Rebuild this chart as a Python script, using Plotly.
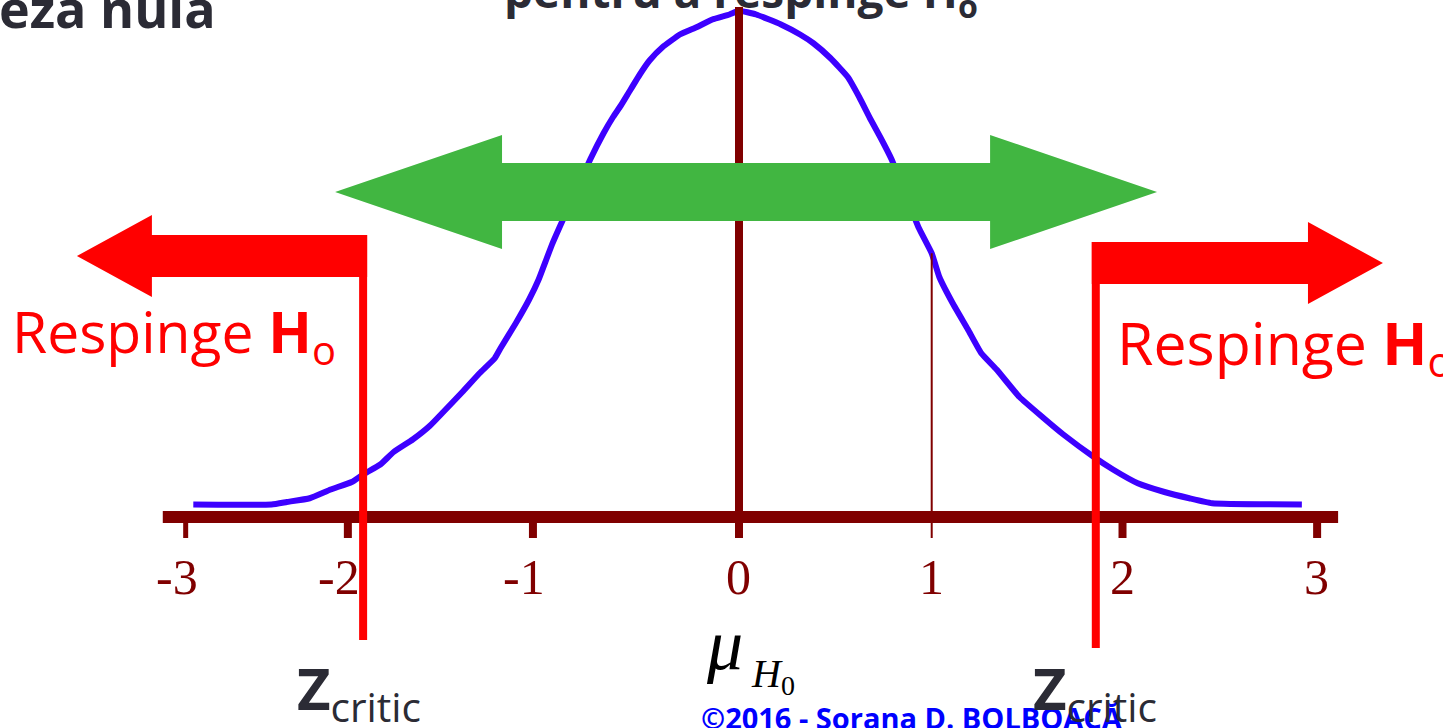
import plotly.graph_objects as go
import numpy as np

# Sampling distribution under H0: z position and curve height
z_values = [-2.86, -2.45, -2.37, -2.25, -2.14, -2.03, -1.97, -1.88, -1.81, -1.71,
            -1.62, -1.55, -1.45, -1.36, -1.28, -1.25, -1.17, -1.10, -1.05, -1.01,
            -0.98, -0.94, -0.78, -0.71, -0.66, -0.62, -0.58, -0.52, -0.47, -0.40,
            -0.31, -0.22, -0.14, -0.05, 0.00, 0.09, 0.22, 0.32, 0.39, 0.48,
            0.57, 0.63, 0.69, 0.74, 0.80, 0.94, 1.01, 1.05, 1.12, 1.20,
            1.27, 1.35, 1.47, 1.59, 1.70, 1.86, 1.96, 2.09, 2.23, 2.36,
            2.48, 2.95]
density = [0.010, 0.010, 0.012, 0.015, 0.022, 0.028, 0.034, 0.042, 0.052, 0.062,
           0.073, 0.084, 0.100, 0.115, 0.127, 0.135, 0.155, 0.174, 0.190, 0.206,
           0.218, 0.232, 0.286, 0.307, 0.320, 0.329, 0.339, 0.354, 0.365, 0.376,
           0.386, 0.392, 0.398, 0.402, 0.405, 0.402, 0.394, 0.386, 0.379, 0.367,
           0.352, 0.336, 0.318, 0.304, 0.286, 0.232, 0.211, 0.192, 0.171, 0.150,
           0.131, 0.118, 0.096, 0.080, 0.066, 0.048, 0.038, 0.027, 0.020, 0.015,
           0.011, 0.010]

# Hand-drawn z axis: tick marks and their labels
tick_positions = [-2.90, -2.05, -1.08, 0.00, 1.01, 2.01, 3.03]
tick_labels = ["-3", "-2", "-1", "0", "1", "2", "3"]

# Critical values bounding the rejection regions
z_critic = [-1.97, 1.87]

W, H = 1443, 728
X0_PX, PX_PER_Z = 739, 190.8      # pixel of z = 0, pixels per z unit
AXIS_PX, PX_PER_Y = 517, 1250.0   # pixel row of the z axis, pixels per density unit

x_range = [-X0_PX / PX_PER_Z, (W - X0_PX) / PX_PER_Z]
y_range = [(AXIS_PX - H) / PX_PER_Y, AXIS_PX / PX_PER_Y]

DARK_RED = "#800000"
CURVE = "#3d00ff"
RED = "#ff0000"
GREEN = "#41b641"
INK = "#2b2b35"
BLUE = "#0000ff"

SANS = "Open Sans"
SERIF = "Liberation Serif"


def dz(px):
    """pixel length -> z units"""
    return px / PX_PER_Z


def dd(px):
    """pixel length -> density units"""
    return px / PX_PER_Y


def paper_x(px):
    return px / W


def paper_top(baseline_px, size, ascent=1.069):
    """paper y of an annotation's top edge so that its baseline falls on baseline_px"""
    return 1 - (baseline_px - ascent * size - 2) / H


fig = go.Figure()

fig.add_trace(go.Scatter(
    x=z_values, y=density, mode="lines",
    line=dict(color=CURVE, width=6, shape="spline", smoothing=0.4),
    hoverinfo="skip", showlegend=False,
))

shapes = []

# z axis (thick horizontal bar) and vertical axis through the mean
shapes.append(dict(type="line", x0=-3.02, x1=3.14, y0=0, y1=0,
                   line=dict(color=DARK_RED, width=12)))
shapes.append(dict(type="line", x0=0, x1=0, y0=0, y1=0.408,
                   line=dict(color=DARK_RED, width=8)))

# tick marks; at z = 1 a thin guide line runs up to the curve
for pos, lab in zip(tick_positions, tick_labels):
    if lab == "1":
        top = float(np.interp(pos, z_values, density))
        shapes.append(dict(type="line", x0=pos, x1=pos, y0=-dd(21), y1=top,
                           line=dict(color=DARK_RED, width=2)))
    else:
        shapes.append(dict(type="line", x0=pos, x1=pos, y0=-dd(6), y1=-dd(21),
                           line=dict(color=DARK_RED, width=5 if lab == "-3" else 8)))


def poly(points):
    return "M " + " L ".join(f"{x:.4f},{y:.4f}" for x, y in points) + " Z"


# green double arrow: the non-rejection region
gy, g_shaft, g_head = dd(517 - 192), dd(29), dd(57)
gl_tip, gl_base, gr_base, gr_tip = -2.117, -1.242, 1.316, 2.191
shapes.append(dict(type="path", fillcolor=GREEN, line=dict(width=0), path=poly([
    (gl_tip, gy), (gl_base, gy + g_head), (gl_base, gy + g_shaft),
    (gr_base, gy + g_shaft), (gr_base, gy + g_head), (gr_tip, gy),
    (gr_base, gy - g_head), (gr_base, gy - g_shaft),
    (gl_base, gy - g_shaft), (gl_base, gy - g_head)])))

# red critical lines with arrows pointing into the rejection regions
half_line = dz(4)
shaft, head = dd(21), dd(41)

ly = dd(517 - 256)
shapes.append(dict(type="line", x0=z_critic[0], x1=z_critic[0], y0=ly + shaft, y1=dd(517 - 640),
                   line=dict(color=RED, width=8)))
shapes.append(dict(type="path", fillcolor=RED, line=dict(width=0), path=poly([
    (-3.470, ly), (-3.077, ly + head), (-3.077, ly + shaft),
    (z_critic[0] + half_line, ly + shaft), (z_critic[0] + half_line, ly - shaft),
    (-3.077, ly - shaft), (-3.077, ly - head)])))

ry = dd(517 - 263)
shapes.append(dict(type="line", x0=z_critic[1], x1=z_critic[1], y0=ry + shaft, y1=dd(517 - 648),
                   line=dict(color=RED, width=8)))
shapes.append(dict(type="path", fillcolor=RED, line=dict(width=0), path=poly([
    (3.375, ry), (2.982, ry + head), (2.982, ry + shaft),
    (z_critic[1] - half_line, ry + shaft), (z_critic[1] - half_line, ry - shaft),
    (2.982, ry - shaft), (2.982, ry - head)])))

annotations = []

# tick labels: the last digit is centred on its tick
for pos, lab in zip(tick_positions, tick_labels):
    annotations.append(dict(
        x=pos, xref="x", xanchor="right", xshift=14,
        y=paper_top(594, 50, 0.891), yref="paper", yanchor="top",
        text=lab, showarrow=False,
        font=dict(family=SERIF, size=50, color=DARK_RED)))


def text(txt, x_px, baseline, size, color, family=SANS, anchor="left", ascent=1.069, **font_kw):
    annotations.append(dict(
        x=paper_x(x_px), xref="paper", xanchor=anchor,
        y=paper_top(baseline, size, ascent), yref="paper", yanchor="top",
        text=txt, showarrow=False,
        font=dict(family=family, size=size, color=color, **font_kw)))


text("eza nula", -3, 28, 52, INK, weight="bold")
text("pentru a respinge H<sub>o</sub>", 741, 8, 46, INK, anchor="center", weight="bold")

text("Respinge <b>H</b><sub>o</sub>", 10, 353, 57, RED)
text("Respinge <b>H</b><sub>o</sub>", 1115, 365, 59, RED)

text("©2016 - Sorana D. BOLBOACĂ", 699, 729, 29, BLUE, weight="bold")

text("<b>Z</b><sub>critic</sub>", 295, 710, 58, INK)
text("<b>Z</b><sub>critic</sub>", 1031, 710, 58, INK)

text("<i>μ</i>", 704, 669, 72, "black", family=SERIF, ascent=0.891)
text("<i>H</i><sub>0</sub>", 749, 687, 40, "black", family=SERIF, ascent=0.891)

fig.update_layout(
    width=W, height=H,
    margin=dict(l=0, r=0, t=0, b=0),
    paper_bgcolor="white", plot_bgcolor="white",
    xaxis=dict(range=x_range, visible=False, fixedrange=True),
    yaxis=dict(range=y_range, visible=False, fixedrange=True),
    shapes=shapes, annotations=annotations,
    showlegend=False,
)

fig.write_html("out.html", config={"displayModeBar": False})
